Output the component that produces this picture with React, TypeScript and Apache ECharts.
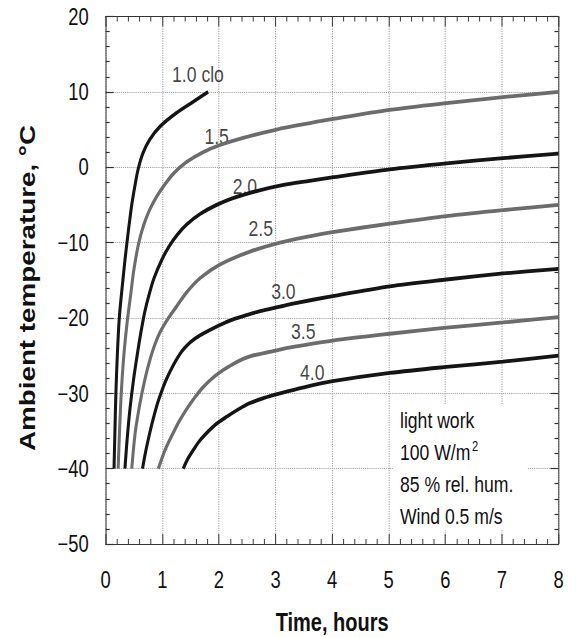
import React, { useEffect, useRef } from "react";
import * as echarts from "echarts";

// Time (hours) vs. ambient temperature (°C) for each clothing insulation level
const clo10: [number, number][] = [
  [0.147, -40], [0.163, -35], [0.18, -30], [0.205, -25], [0.24, -20], [0.29, -16],
  [0.345, -12], [0.4, -8.5], [0.46, -5], [0.52, -2.3], [0.575, -0.2], [0.66, 1.9],
  [0.78, 3.7], [0.96, 5.4], [1.25, 7.2], [1.55, 8.7], [1.81, 10],
];
const clo15: [number, number][] = [
  [0.22, -40], [0.245, -35], [0.275, -30], [0.32, -25], [0.38, -20.5], [0.44, -17],
  [0.5, -13.5], [0.58, -10.2], [0.67, -7.7], [0.78, -5.6], [0.9, -3.9], [1.02, -2.55],
  [1.19, -0.9], [1.43, 0.7], [1.72, 2.0], [2.02, 2.95], [2.43, 3.9], [3.02, 5.0],
  [3.61, 5.85], [4.02, 6.4], [5.02, 7.6], [6.02, 8.5], [7.02, 9.3], [8, 10],
];
const clo20: [number, number][] = [
  [0.34, -40], [0.38, -36], [0.43, -32], [0.49, -28.3], [0.555, -25], [0.62, -22],
  [0.69, -19.2], [0.77, -16.8], [0.86, -14.6], [0.99, -12.3], [1.12, -10.5], [1.26, -9.0],
  [1.43, -7.6], [1.67, -6.2], [1.96, -5.0], [2.25, -4.1], [2.7, -3.1], [3.1, -2.4],
  [3.6, -1.8], [4.0, -1.35], [5.02, -0.3], [6.02, 0.5], [7.02, 1.2], [8, 1.8],
];
const clo25: [number, number][] = [
  [0.46, -40], [0.52, -35.3], [0.58, -32.4], [0.64, -30], [0.71, -27.6], [0.78, -25.6],
  [0.87, -23.5], [0.96, -21.9], [1.11, -20.0], [1.25, -18.5], [1.43, -16.6], [1.67, -14.7],
  [2.02, -12.9], [2.55, -11.2], [3.08, -10.0], [3.5, -9.3], [4.01, -8.6], [5.02, -7.5],
  [6.02, -6.5], [7.02, -5.7], [8, -5.0],
];
const clo30: [number, number][] = [
  [0.65, -40], [0.71, -37.6], [0.78, -35.2], [0.85, -33.1], [0.93, -31.0], [1.08, -28.0],
  [1.31, -24.8], [1.5, -23.2], [1.67, -22.3], [2.0, -21.0], [2.25, -20.2], [2.5, -19.6],
  [2.73, -19.1], [3.08, -18.5], [3.31, -18.1], [4.01, -17.1], [5.02, -15.8], [6.02, -14.9],
  [7.02, -14.1], [8, -13.5],
];
const clo35: [number, number][] = [
  [0.93, -40], [1.05, -37.5], [1.19, -35.3], [1.3, -33.7], [1.43, -32.1], [1.58, -30.5],
  [1.72, -29.2], [1.9, -27.9], [2.08, -26.9], [2.3, -25.9], [2.55, -25.1], [3.08, -24.2],
  [3.31, -23.85], [4.01, -23.0], [5.02, -22.1], [6.02, -21.3], [7.02, -20.6], [8, -19.9],
];
const clo40: [number, number][] = [
  [1.37, -40], [1.45, -38.7], [1.55, -37.5], [1.66, -36.3], [1.78, -35.3], [1.95, -34.1],
  [2.14, -33.1], [2.35, -32.1], [2.55, -31.3], [2.8, -30.6], [3.08, -30.0], [3.5, -29.2],
  [4.01, -28.4], [5.02, -27.3], [6.02, -26.5], [7.02, -25.8], [8, -25.0],
];

const seriesNames = ["1.0 clo", "1.5", "2.0", "2.5", "3.0", "3.5", "4.0"];
const seriesData = [clo10, clo15, clo20, clo25, clo30, clo35, clo40];

// Curve label anchors (data coordinates)
const labelPoints: [number, number][] = [
  [1.63, 12.3], [1.96, 4.1], [2.46, -2.55], [2.74, -8.1], [3.14, -16.5], [3.49, -21.8], [3.65, -27.2],
];

const noteLines = ["light work", "100 W/m{sup|2}", "85 % rel. hum.", "Wind 0.5 m/s"];

const xMin = 0;
const xMax = 8;
const xStep = 1;
const yMin = -50;
const yMax = 20;
const yStep = 10;

const BLACK = "#151515";
const GRAY = "#6c6c6c";
const SANS = "'Liberation Sans', Arial, Helvetica, sans-serif";

// the reference is horizontally condensed; draw wider and squeeze
const S = 0.8;
const W = 578 / S;
const H = 638;
const px = (v: number) => v / S;

export default function App() {
  const ref = useRef<HTMLDivElement>(null);

  useEffect(() => {
    if (!ref.current) return;
    const chart = echarts.init(ref.current, undefined, { renderer: "svg", width: W, height: H });

    const axisLine = { show: true, onZero: false, lineStyle: { color: "#333", width: 1.2 } };
    const tick = { show: true, inside: true, length: 10, lineStyle: { color: "#333", width: 1.2 } };
    const minor = { show: true, splitNumber: 5, length: 5, lineStyle: { color: "#333", width: 1.2 } };
    const split = { show: true, lineStyle: { color: "#9a9a9a", type: "dotted", width: 1.2 } };
    const labelFont = { fontSize: 23, fontFamily: SANS, color: "#111" };

    const option: any = {
      animation: false,
      backgroundColor: "#fff",
      grid: { left: px(105.7), right: W - px(558.5), top: 16.5, bottom: 94, containLabel: false, outerBoundsMode: "none" },
      xAxis: [
        {
          type: "value", min: xMin, max: xMax, interval: xStep, position: "bottom",
          axisLine, axisTick: tick, minorTick: minor, splitLine: split,
          axisLabel: { ...labelFont, margin: 24 },
          name: "Time, hours", nameLocation: "middle", nameGap: 66,
          nameTextStyle: { fontSize: 25, fontWeight: "bold", fontFamily: SANS, color: "#111" },
        },
        {
          type: "value", min: xMin, max: xMax, interval: xStep, position: "top",
          axisLine, axisTick: tick, minorTick: minor, splitLine: { show: false },
          axisLabel: { show: false },
        },
      ],
      yAxis: [
        {
          type: "value", min: yMin, max: yMax, interval: yStep, position: "left",
          axisLine, axisTick: tick, minorTick: minor, splitLine: split,
          axisLabel: { ...labelFont, margin: px(17), formatter: (v: number) => String(v).replace("-", "\u2212") },
        },
        {
          type: "value", min: yMin, max: yMax, interval: yStep, position: "right",
          axisLine, axisTick: tick, minorTick: minor, splitLine: { show: false },
          axisLabel: { show: false },
        },
      ],
      series: [
        ...seriesData.map((d, i) => ({
          name: seriesNames[i],
          type: "line",
          xAxisIndex: 0,
          yAxisIndex: 0,
          data: d,
          showSymbol: false,
          symbol: "none",
          smooth: 0.3,
          z: 3,
          lineStyle: { color: i % 2 === 0 ? BLACK : GRAY, width: 3.8 },
        })),
        {
          type: "scatter",
          xAxisIndex: 0,
          yAxisIndex: 0,
          symbolSize: 1,
          silent: true,
          z: 2,
          itemStyle: { color: "rgba(0,0,0,0)" },
          data: labelPoints.map((p, i) => ({ name: seriesNames[i], value: p })),
          label: { show: true, position: "inside", formatter: "{b}", fontSize: 22, fontFamily: SANS, color: "#111" },
        },
      ],
      graphic: [
        {
          type: "rect",
          shape: { x: px(393), y: 404, width: px(134), height: 126 },
          style: { fill: "#fff" },
          z: 10,
        },
        ...noteLines.map((t, i) => ({
          type: "text",
          x: px(400),
          y: 420 + i * 32,
          z: 11,
          style: {
            text: t,
            fontSize: 22,
            fontFamily: SANS,
            fill: "#111",
            align: "left",
            verticalAlign: "middle",
            rich: { sup: { fontSize: 14, fontFamily: SANS, verticalAlign: "top", padding: [0, 0, 10, 2] } },
          },
        })),
        {
          type: "text",
          x: px(27.5),
          y: 288,
          rotation: Math.PI / 2,
          scaleX: 1.03,
          z: 11,
          style: {
            text: "Ambient temperature, \u00B0C",
            fontSize: 27,
            fontWeight: "bold",
            fontFamily: SANS,
            fill: "#111",
            align: "center",
            verticalAlign: "middle",
          },
        },
      ],
    };

    chart.setOption(option);
    return () => chart.dispose();
  }, []);

  return (
    <div style={{ position: "absolute", left: 0, top: 0, width: 578, height: 638, overflow: "hidden", background: "#fff" }}>
      <div
        ref={ref}
        style={{ width: W, height: H, transform: `scaleX(${S})`, transformOrigin: "0 0" }}
      />
    </div>
  );
}
